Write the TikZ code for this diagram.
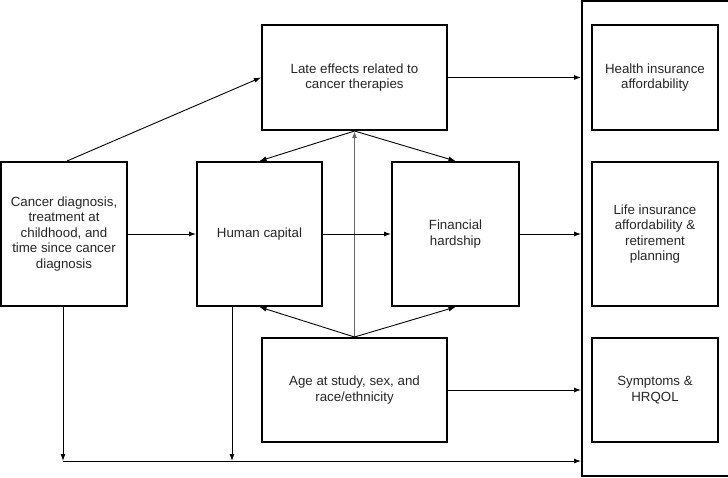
\documentclass[tikz,border=0pt]{standalone}
\usepackage{fontspec}
\setmainfont{Liberation Sans}
\usetikzlibrary{arrows.meta}

\begin{document}
\begin{tikzpicture}[x=1pt, y=-1pt]
\tikzset{boite/.style={draw, line width=2pt, inner sep=0pt, align=center, text=black!85,
    font=\fontsize{13.3}{15.5}\selectfont},
  fleche/.style={-{Latex[length=7pt,width=5pt]}, line width=0.9pt},
  grise/.style={fleche, draw=black!60, line width=1.4pt}}
\useasboundingbox (0,0) rectangle (728,477);
\clip (0,0) rectangle (728,477);
\node[boite, minimum width=185, minimum height=105] (LE) at (354.5,77.5) {Late effects related to\\cancer therapies};
\node[boite, minimum width=126, minimum height=144] (CD) at (64,234) {Cancer diagnosis,\\treatment at\\childhood, and\\time since cancer\\diagnosis};
\node[boite, minimum width=125, minimum height=144] (HC) at (259.5,234) {Human capital};
\node[boite, minimum width=127, minimum height=144] (FH) at (455.5,234) {Financial\\hardship};
\node[boite, minimum width=185, minimum height=104] (AG) at (354.5,390) {Age at study, sex, and\\race/ethnicity};
\node[boite, minimum width=158, minimum height=475] (OUT) at (661,238.5) {};
\node[boite, minimum width=126, minimum height=105] (HI) at (655,77.5) {Health insurance\\affordability};
\node[boite, minimum width=126, minimum height=144] (LI) at (655,234) {Life insurance\\affordability \&\\retirement\\planning};
\node[boite, minimum width=126, minimum height=104] (SY) at (655,390) {Symptoms \&\\HRQOL};
\coordinate (B1) at (63,461);
\coordinate (B2) at (232,461);
% fleches
\draw[fleche] ([xshift=3]CD.north) -- (LE.west);
\draw[fleche] (LE.south) -- (HC.north);
\draw[fleche] (LE.south) -- (FH.north);
\draw[grise] (AG.north) -- (LE.south);
\draw[fleche] (AG.north) -- (HC.south);
\draw[fleche] (AG.north) -- (FH.south);
\draw[fleche] (CD.east) -- (HC.west);
\draw[fleche] (HC.east) -- (FH.west);
\draw[fleche] (FH.east) -- (FH.east -| OUT.west);
\draw[fleche] (LE.east) -- (LE.east -| OUT.west);
\draw[fleche] (AG.east) -- (AG.east -| OUT.west);
\draw[fleche] (CD.south -| B1) -- (B1);
\draw[fleche] (HC.south -| B2) -- (B2);
\draw[fleche] (B1) -- (B1 -| OUT.west);
\end{tikzpicture}
\end{document}
